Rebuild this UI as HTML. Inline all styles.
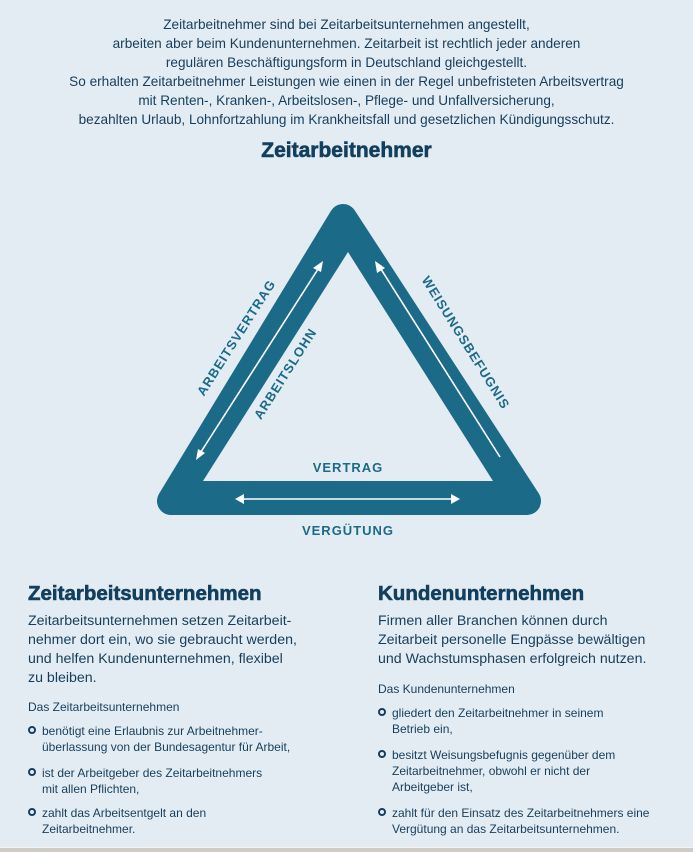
<!DOCTYPE html>
<html><head><meta charset="utf-8"><style>
body{margin:0;width:693px;height:851px;background:#e3ecf3;font-family:"Liberation Sans",sans-serif;color:#163e5c;position:relative;overflow:hidden}
.a{position:absolute;white-space:nowrap}
.top{left:0;width:693px;text-align:center;font-size:13.6px;line-height:19px;top:15px}
h1,h2{margin:0;font-weight:bold;color:#123f5e;-webkit-text-stroke:0.6px #123f5e}
.p{font-size:14.2px;line-height:19px}
.s{font-size:12px;line-height:16px}
.b{position:absolute;left:0;top:3px;width:4px;height:4px;border:2.5px solid #163e5c;border-radius:50%}
.li{position:relative;padding-left:14px;margin-bottom:10px}
</style></head><body>
<div class="a top">Zeitarbeitnehmer sind bei Zeitarbeitsunternehmen angestellt,<br>arbeiten aber beim Kundenunternehmen. Zeitarbeit ist rechtlich jeder anderen<br>regulären Beschäftigungsform in Deutschland gleichgestellt.<br>So erhalten Zeitarbeitnehmer Leistungen wie einen in der Regel unbefristeten Arbeitsvertrag<br>mit Renten-, Kranken-, Arbeitslosen-, Pflege- und Unfallversicherung,<br>bezahlten Urlaub, Lohnfortzahlung im Krankheitsfall und gesetzlichen Kündigungsschutz.</div>
<h1 class="a" style="left:0;width:693px;text-align:center;top:139px;font-size:21px">Zeitarbeitnehmer</h1>
<svg class="a" style="left:0;top:0" width="693" height="560">
<polygon points="343,218 171,501 527,501" fill="#1b6a88" stroke="#1b6a88" stroke-width="28" stroke-linejoin="round"/>
<polygon points="348,252 203,481 493,481" fill="#e3ecf3"/>
<g stroke="#fff" stroke-width="1.6" fill="#fff">
<line x1="320" y1="266" x2="199" y2="455"/>
<polygon points="323,261 313,268 321,272" stroke="none"/>
<polygon points="196,460 198,449 205,453" stroke="none"/>
<line x1="379" y1="266" x2="500" y2="457"/>
<polygon points="375,261 377,273 385,268" stroke="none"/>
<line x1="240" y1="499" x2="455" y2="499"/>
<polygon points="235,499 244,494 244,504" stroke="none"/>
<polygon points="460,499 451,494 451,504" stroke="none"/>
</g>
<g fill="#1b6a88" font-family="Liberation Sans" font-size="13" letter-spacing="1" text-anchor="middle" font-weight="bold">
<text transform="translate(240,340) rotate(-57.5)">ARBEITSVERTRAG</text>
<text transform="translate(289,376) rotate(-57.5)">ARBEITSLOHN</text>
<text transform="translate(462,345) rotate(58)">WEISUNGSBEFUGNIS</text>
<text x="348" y="472">VERTRAG</text>
<text x="348" y="535">VERGÜTUNG</text>
</g>
</svg>
<h2 class="a" style="left:28px;top:582px;font-size:20.5px">Zeitarbeitsunternehmen</h2>
<div class="a p" style="left:28px;top:612px">Zeitarbeitsunternehmen setzen Zeitarbeit-<br>nehmer dort ein, wo sie gebraucht werden,<br>und helfen Kundenunternehmen, flexibel<br>zu bleiben.</div>
<div class="a s" style="left:28px;top:699px">Das Zeitarbeitsunternehmen
<div class="li" style="margin-top:8px"><span class="b"></span>benötigt eine Erlaubnis zur Arbeitnehmer-<br>überlassung von der Bundesagentur für Arbeit,</div>
<div class="li" style="margin-bottom:8px"><span class="b"></span>ist der Arbeitgeber des Zeitarbeitnehmers<br>mit allen Pflichten,</div>
<div class="li"><span class="b"></span>zahlt das Arbeitsentgelt an den<br>Zeitarbeitnehmer.</div></div>
<h2 class="a" style="left:378px;top:582px;font-size:20.5px">Kundenunternehmen</h2>
<div class="a p" style="left:378px;top:612px">Firmen aller Branchen können durch<br>Zeitarbeit personelle Engpässe bewältigen<br>und Wachstumsphasen erfolgreich nutzen.</div>
<div class="a s" style="left:378px;top:681px">Das Kundenunternehmen
<div class="li" style="margin-top:8px"><span class="b"></span>gliedert den Zeitarbeitnehmer in seinem<br>Betrieb ein,</div>
<div class="li"><span class="b"></span>besitzt Weisungsbefugnis gegenüber dem<br>Zeitarbeitnehmer, obwohl er nicht der<br>Arbeitgeber ist,</div>
<div class="li"><span class="b"></span>zahlt für den Einsatz des Zeitarbeitnehmers eine<br>Vergütung an das Zeitarbeitsunternehmen.</div></div>
<div class="a" style="left:0;top:847px;width:693px;height:4px;background:#cfccc4;border-top:1px solid #f4f4f4"></div>
</body></html>
